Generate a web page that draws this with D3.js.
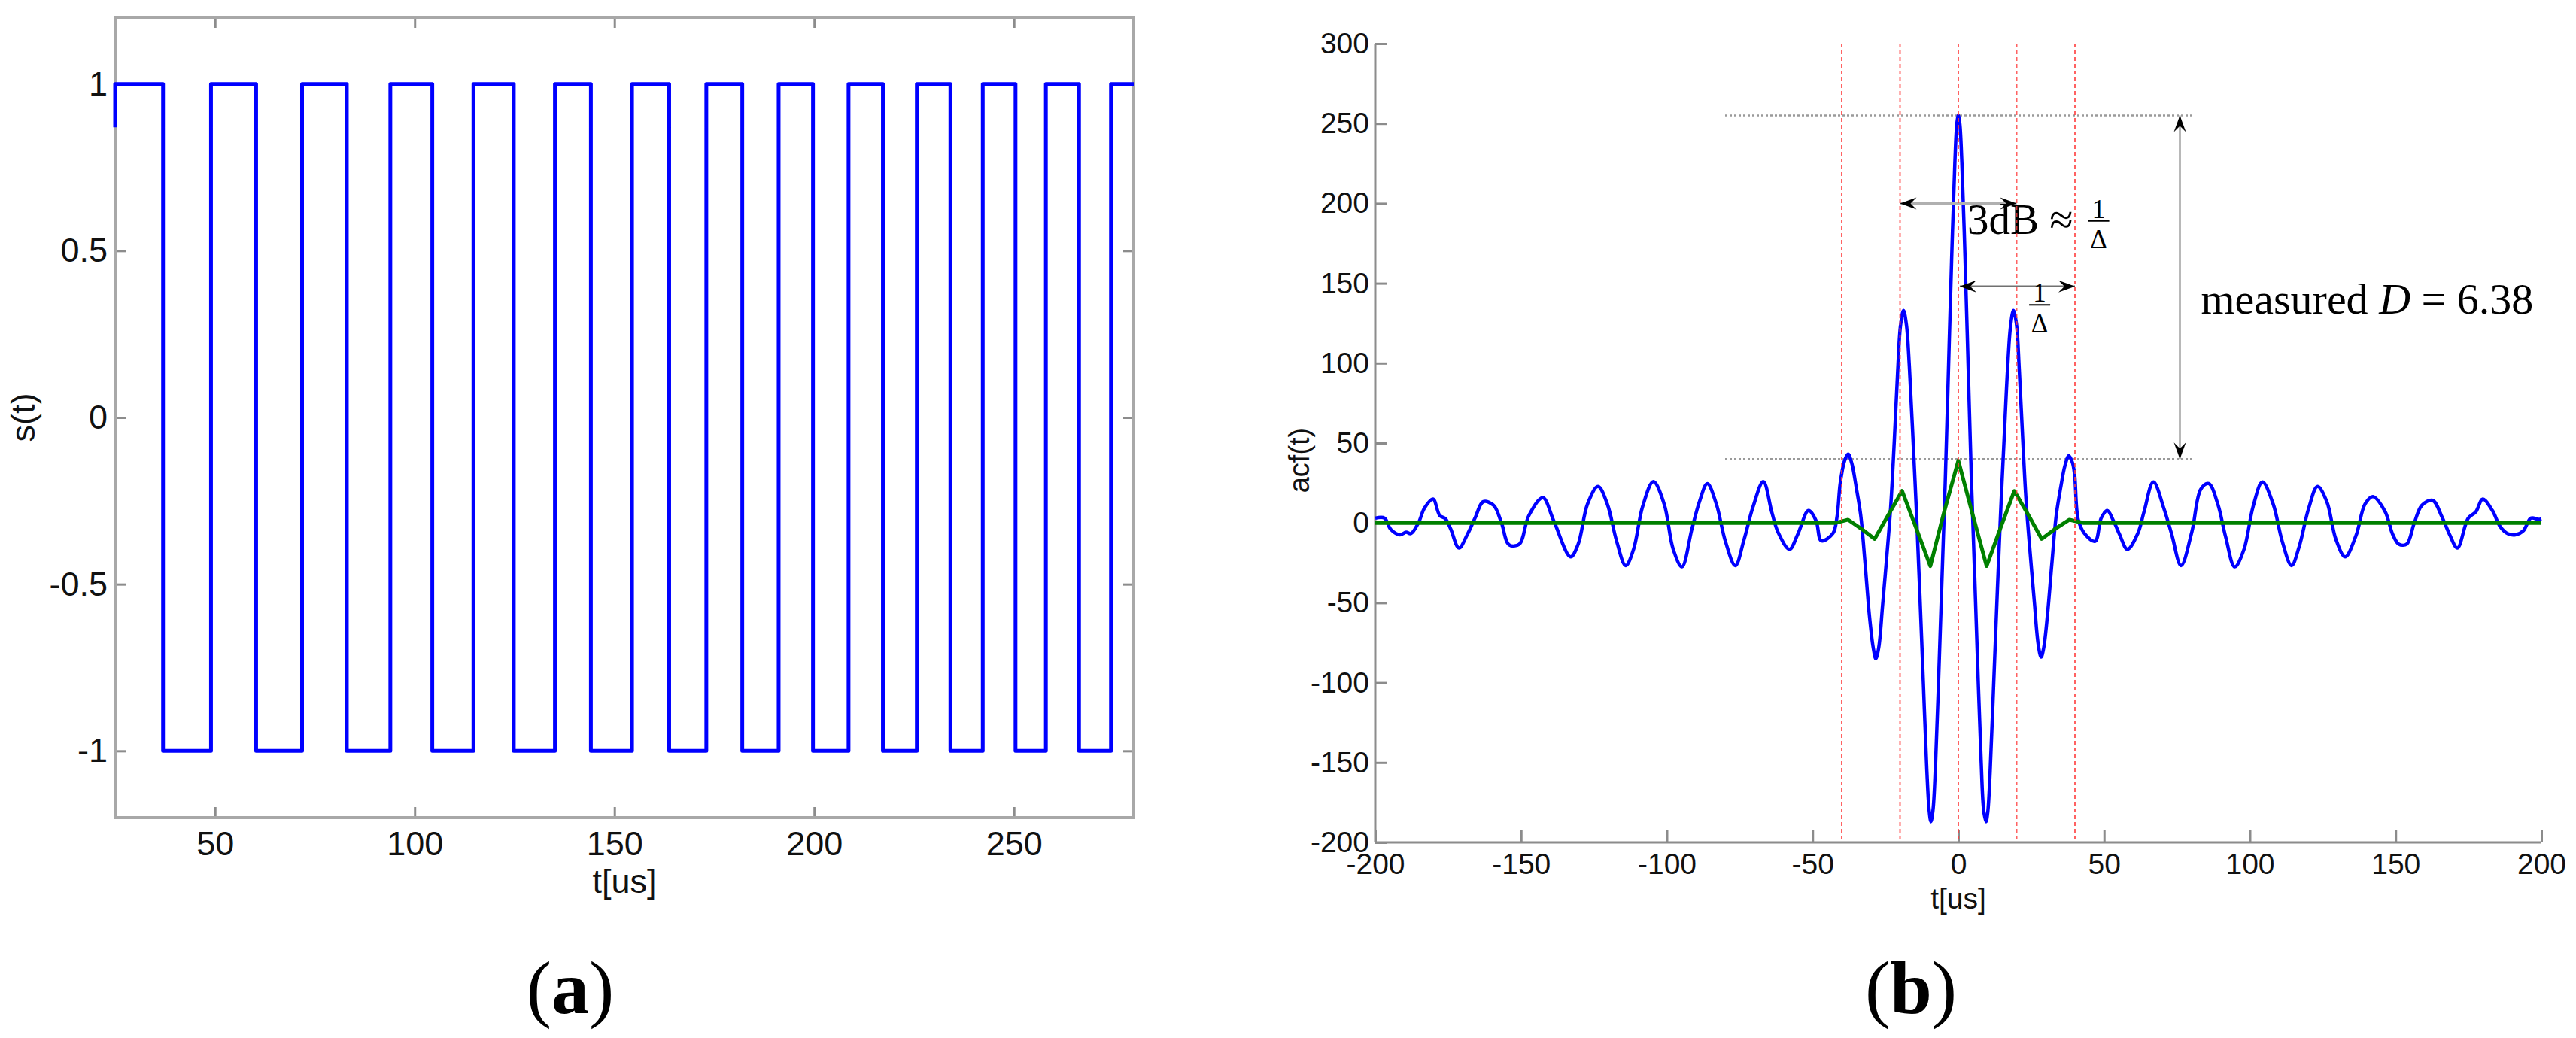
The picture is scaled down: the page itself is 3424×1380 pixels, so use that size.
<!DOCTYPE html>
<html>
<head>
<meta charset="utf-8">
<script src="https://cdn.jsdelivr.net/npm/d3@7"></script>
<style>
  body { margin: 0; background: #fff; }
  svg { display: block; }
</style>
</head>
<body>
<div id="chart"></div>
<script>
// (a) square wave: level flips at each edge time, starts high
var squareStart = [25, 0.87];
var squareEdges = [37.0, 49.0, 60.3, 71.8, 83.0, 93.9, 104.4, 114.7, 124.8, 135.1, 144.1, 154.4, 163.7,
  173.0, 182.0, 191.1, 199.7, 208.6, 217.2, 225.7, 234.1, 242.2, 250.4, 258.0, 266.3, 274.3];
var squareEnd = 280;
var aXTicks = [50, 100, 150, 200, 250];
var aYTicks = [-1, -0.5, 0, 0.5, 1];

// (b) autocorrelation, blue = acf, green = reference acf
var acfBlue = [
  [-200, 3], [-196.8, 3], [-194.7, -4], [-191.5, -7.4], [-189.4, -5.8], [-187.8, -6.7], [-185.2, 0],
  [-183.1, 9.4], [-180.2, 14.9], [-177.9, 4.7], [-175.9, 2.6], [-174.1, -3.9], [-171.3, -15.7],
  [-168.4, -7.2], [-165.8, 3], [-162.9, 13.3], [-159.4, 11], [-156.8, 0.6], [-154.1, -13.7],
  [-150.6, -13.3], [-147.3, 4.7], [-142.5, 15.7], [-138.8, 1.4], [-133.0, -21.2], [-130.4, -13.3],
  [-127.2, 11.8], [-123.6, 22.8], [-120.4, 11.8], [-117.2, -11.5], [-114.1, -26.7], [-111.4, -16.5],
  [-108.3, 10.2], [-104.6, 25.9], [-100.9, 11.8], [-97.8, -16.5], [-94.8, -27.5], [-91.4, -3.9],
  [-88.8, 13.3], [-86.1, 24.6], [-83.0, 11.8], [-79.9, -11.5], [-76.5, -26.7], [-73.5, -10.4],
  [-70.4, 10.2], [-66.9, 25.9], [-64.0, 6.9], [-61.9, -5.6], [-57.9, -16.5], [-55.1, -7.2],
  [-51.4, 7.7], [-48.8, 1.4], [-47.0, -11.2], [-43.0, -6.5],
  [-41.6, 4], [-40.5, 25], [-39, 39], [-37.8, 43], [-36.5, 37], [-35, 22], [-33.5, 5], [-32, -25],
  [-30.5, -58], [-29.2, -78], [-28.3, -85], [-27.3, -78], [-26, -52], [-24.5, -20], [-23.2, 10],
  [-22, 50], [-20.8, 95], [-19.8, 124], [-18.8, 133], [-17.8, 124], [-16.8, 98], [-15.8, 62],
  [-14.5, 12], [-13.3, -40], [-12, -100], [-10.8, -155], [-10, -180], [-9.4, -187], [-8.7, -180],
  [-7.8, -150], [-6.8, -100], [-5.7, -40], [-4.5, 25], [-3.4, 95], [-2.3, 165], [-1.2, 225],
  [-0.5, 250], [0, 255],
  [0.5, 250], [1.2, 226], [2.3, 166], [3.4, 96], [4.5, 26], [5.7, -38], [6.8, -98], [7.8, -148],
  [8.7, -180], [9.5, -187], [10.1, -181], [10.9, -156], [12.1, -102], [13.4, -42], [14.6, 10],
  [15.9, 60], [16.9, 97], [17.9, 123], [18.9, 133], [19.9, 125], [20.9, 96], [22.1, 52], [23.3, 12],
  [24.6, -18], [26.1, -50], [27.4, -76], [28.4, -84], [29.3, -78], [30.6, -57], [32.1, -25],
  [33.6, 5], [35.1, 22], [36.6, 36], [37.9, 42], [39.1, 38], [39.9, 30], [41.1, 2.2],
  [43.2, -6.4], [46.9, -11.5], [49.0, 3], [51.1, 7.7], [53.2, 1.4], [55.3, -7.2], [58.0, -16.5],
  [61.6, -6.4], [63.7, 7], [66.9, 25.6], [70.6, 8.6], [73.2, -7.2], [76.4, -26.7], [80.1, -5.6],
  [83.2, 21.2], [85.9, 24.6], [89.0, 11.8], [91.7, -8.8], [94.8, -27.5], [98.0, -16.5],
  [101.1, 10.2], [104.3, 25.6], [108.0, 11.8], [111.1, -11.5], [114.3, -26.7], [116.9, -14.9],
  [120.1, 8.6], [123.2, 22.8], [126.4, 13.3], [129.5, -10.2], [132.7, -21.2], [136.4, -8],
  [139.5, 11.8], [142.2, 16.5], [146.4, 7.1], [149.0, -7.2], [151.1, -13.3], [153.8, -13.3],
  [156.4, 0], [159.0, 11], [162.7, 14.1], [165.9, 3.8], [168.5, -7.2], [171.2, -15.7], [174.9, 3],
  [177.5, 6.9], [179.9, 14.9], [183.2, 7.7], [185.9, -2.4], [188.5, -6.7], [191.1, -7.4],
  [193.8, -4.9], [196.4, 3], [199.0, 2.2], [200, 2.5]
];
var acfGreen = [
  [-200, 0], [-42, 0], [-37.8, 2], [-33, -4], [-28.7, -10], [-24, 5], [-19.3, 20], [-14.5, -3],
  [-9.6, -27], [-5, 6], [0, 39], [4.8, 6], [9.7, -27], [14.5, -3], [19.2, 20], [24, 5], [28.6, -10],
  [33, -4], [38.1, 2], [43, 0], [200, 0]
];
var bXTicks = [-200, -150, -100, -50, 0, 50, 100, 150, 200];
var bYTicks = [-200, -150, -100, -50, 0, 50, 100, 150, 200, 250, 300];
var markerTimes = [-40, -20, 0, 20, 40];
var levelLines = [255, 40];       // peak and first sidelobe
var levelSpan = [-80, 80];
var arrow3dB = { from: -20, to: 20, at: 200 };
var arrowDelta = { from: 0.5, to: 40, at: 148 };
var arrowD = { at: 76, from: 255, to: 40 };

var width = 3424, height = 1380;
var sans = "'Liberation Sans', Arial, Helvetica, sans-serif";
var serif = "'Liberation Serif', 'Times New Roman', serif";

var svg = d3.select('#chart').append('svg')
  .attr('width', width)
  .attr('height', height)
  .style('background', '#fff');

var defs = svg.append('defs');
defs.append('marker')
  .attr('id', 'head')
  .attr('viewBox', '-24 -9 26 18')
  .attr('refX', 0).attr('refY', 0)
  .attr('markerWidth', 26).attr('markerHeight', 18)
  .attr('markerUnits', 'userSpaceOnUse')
  .attr('orient', 'auto-start-reverse')
  .append('path')
  .attr('d', 'M0,0 L-22,-8 L-14,0 L-22,8 Z')
  .attr('fill', '#000');

function styleAxis(g, size) {
  g.attr('font-family', sans).attr('font-size', size);
  g.selectAll('.domain').remove();
  g.selectAll('.tick line').attr('stroke', '#8c8c8c').attr('stroke-width', 3);
  g.selectAll('.tick text').attr('fill', '#111');
}

// ---------- panel (a) ----------
var xa = d3.scaleLinear().domain([25, 280]).range([153, 1507]);
var ya = d3.scaleLinear().domain([-1.2, 1.2]).range([1087, 23]);

var pa = svg.append('g');

pa.append('g').attr('transform', 'translate(0,' + ya(-1.2) + ')')
  .call(d3.axisBottom(xa).tickValues(aXTicks).tickSize(-14).tickSizeOuter(0).tickPadding(18))
  .call(styleAxis, 45);
pa.append('g').attr('transform', 'translate(0,' + ya(1.2) + ')')
  .call(d3.axisTop(xa).tickValues(aXTicks).tickSize(-14).tickSizeOuter(0).tickFormat(''))
  .call(styleAxis, 45);
pa.append('g').attr('transform', 'translate(' + xa(25) + ',0)')
  .call(d3.axisLeft(ya).tickValues(aYTicks).tickSize(-14).tickSizeOuter(0).tickPadding(10)
    .tickFormat(function (d) { return String(d); }))
  .call(styleAxis, 45);
pa.append('g').attr('transform', 'translate(' + xa(280) + ',0)')
  .call(d3.axisRight(ya).tickValues(aYTicks).tickSize(-14).tickSizeOuter(0).tickFormat(''))
  .call(styleAxis, 45);

pa.append('rect')
  .attr('x', xa(25)).attr('y', ya(1.2))
  .attr('width', xa(280) - xa(25)).attr('height', ya(-1.2) - ya(1.2))
  .attr('fill', 'none').attr('stroke', '#a8a8a8').attr('stroke-width', 4);

var squarePts = [squareStart];
var level = 1;
squarePts.push([squareStart[0], level]);
for (var i = 0; i < squareEdges.length; i++) {
  squarePts.push([squareEdges[i], level]);
  level = -level;
  squarePts.push([squareEdges[i], level]);
}
squarePts.push([squareEnd, level]);

pa.append('path')
  .datum(squarePts)
  .attr('fill', 'none')
  .attr('stroke', '#0000ff')
  .attr('stroke-width', 5)
  .attr('stroke-linejoin', 'round')
  .attr('d', d3.line().x(function (d) { return xa(d[0]); }).y(function (d) { return ya(d[1]); }));

pa.append('text').attr('transform', 'translate(46,555) rotate(-90)')
  .attr('text-anchor', 'middle').attr('font-family', sans).attr('font-size', 45).attr('fill', '#111')
  .text('s(t)');
pa.append('text').attr('x', 830).attr('y', 1187)
  .attr('text-anchor', 'middle').attr('font-family', sans).attr('font-size', 45).attr('fill', '#111')
  .text('t[us]');

var la = pa.append('text').attr('x', 758).attr('y', 1347)
  .attr('text-anchor', 'middle').attr('font-family', serif).attr('font-size', 100).attr('fill', '#000');
la.append('tspan').text('(');
la.append('tspan').attr('font-weight', 'bold').text('a');
la.append('tspan').text(')');

// ---------- panel (b) ----------
var xb = d3.scaleLinear().domain([-200, 200]).range([1828, 3378]);
var yb = d3.scaleLinear().domain([-200, 300]).range([1120, 58]);

var pb = svg.append('g');

pb.append('g').attr('transform', 'translate(0,' + yb(-200) + ')')
  .call(d3.axisBottom(xb).tickValues(bXTicks).tickSize(-16).tickSizeOuter(0).tickPadding(14)
    .tickFormat(function (d) { return String(d); }))
  .call(styleAxis, 39);
pb.append('g').attr('transform', 'translate(' + xb(-200) + ',0)')
  .call(d3.axisLeft(yb).tickValues(bYTicks).tickSize(-16).tickSizeOuter(0).tickPadding(8)
    .tickFormat(function (d) { return String(d); }))
  .call(styleAxis, 39);

pb.append('line')
  .attr('x1', xb(-200)).attr('x2', xb(200)).attr('y1', yb(-200)).attr('y2', yb(-200))
  .attr('stroke', '#8c8c8c').attr('stroke-width', 3);
pb.append('line')
  .attr('x1', xb(-200)).attr('x2', xb(-200)).attr('y1', yb(-200)).attr('y2', yb(300))
  .attr('stroke', '#8c8c8c').attr('stroke-width', 3);

// level lines
pb.selectAll('.level').data(levelLines).enter().append('line')
  .attr('class', 'level')
  .attr('x1', xb(levelSpan[0])).attr('x2', xb(levelSpan[1]))
  .attr('y1', function (d) { return yb(d); }).attr('y2', function (d) { return yb(d); })
  .attr('stroke', '#9a9a9a').attr('stroke-width', 2.5).attr('stroke-dasharray', '3,3');

var lineB = d3.line()
  .x(function (d) { return xb(d[0]); })
  .y(function (d) { return yb(d[1]); });

pb.append('path').datum(acfBlue)
  .attr('fill', 'none').attr('stroke', '#0000ff').attr('stroke-width', 4.5)
  .attr('stroke-linejoin', 'round')
  .attr('d', lineB.curve(d3.curveCatmullRom.alpha(0.5)));

pb.append('path').datum(acfGreen)
  .attr('fill', 'none').attr('stroke', '#008000').attr('stroke-width', 5)
  .attr('stroke-linejoin', 'round')
  .attr('d', d3.line().x(function (d) { return xb(d[0]); }).y(function (d) { return yb(d[1]); }));

// arrows
pb.append('line')
  .attr('x1', xb(arrow3dB.from)).attr('x2', xb(arrow3dB.to))
  .attr('y1', yb(arrow3dB.at)).attr('y2', yb(arrow3dB.at))
  .attr('stroke', '#b0b0b0').attr('stroke-width', 4)
  .attr('marker-start', 'url(#head)').attr('marker-end', 'url(#head)');
pb.append('line')
  .attr('x1', xb(arrowDelta.from)).attr('x2', xb(arrowDelta.to))
  .attr('y1', yb(arrowDelta.at)).attr('y2', yb(arrowDelta.at))
  .attr('stroke', '#707070').attr('stroke-width', 2.5)
  .attr('marker-start', 'url(#head)').attr('marker-end', 'url(#head)');
pb.append('line')
  .attr('x1', xb(arrowD.at)).attr('x2', xb(arrowD.at))
  .attr('y1', yb(arrowD.from)).attr('y2', yb(arrowD.to))
  .attr('stroke', '#a0a0a0').attr('stroke-width', 2.5)
  .attr('marker-start', 'url(#head)').attr('marker-end', 'url(#head)');

// annotation text: 1 over delta, spaced so the two rows do not collide
function fraction(g, cx, barY, size) {
  var f = g.append('text')
    .attr('text-anchor', 'middle').attr('font-family', serif).attr('font-size', size).attr('fill', '#000');
  f.append('tspan').attr('x', cx).attr('y', barY - 4).text('1');
  f.append('tspan').attr('x', cx).attr('y', barY + size * 1.04).text('\u0394');
  g.append('line').attr('x1', cx - 14).attr('x2', cx + 14).attr('y1', barY).attr('y2', barY)
    .attr('stroke', '#000').attr('stroke-width', 2);
}

var t3 = pb.append('text').attr('x', xb(3.1)).attr('y', yb(181))
  .attr('font-family', serif).attr('font-size', 57).attr('fill', '#000')
  .text('3dB \u2248');
fraction(pb, xb(3.1) + t3.node().getComputedTextLength() + 34, yb(189), 35);
fraction(pb, xb(27.9), yb(136.5), 35);

var tm = pb.append('text').attr('x', xb(83.2)).attr('y', yb(130.9))
  .attr('font-family', serif).attr('font-size', 58).attr('fill', '#000');
tm.append('tspan').text('measured ');
tm.append('tspan').attr('font-style', 'italic').text('D');
tm.append('tspan').text(' = 6.38');

// red marker lines on top
pb.selectAll('.marker').data(markerTimes).enter().append('line')
  .attr('class', 'marker')
  .attr('x1', function (d) { return xb(d); }).attr('x2', function (d) { return xb(d); })
  .attr('y1', yb(300)).attr('y2', yb(-200))
  .attr('stroke', '#ff3b3b').attr('stroke-opacity', 0.8).attr('stroke-width', 2)
  .attr('stroke-dasharray', '5,4');

pb.append('text').attr('transform', 'translate(1740,612) rotate(-90)')
  .attr('text-anchor', 'middle').attr('font-family', sans).attr('font-size', 38).attr('fill', '#111')
  .text('acf(t)');
pb.append('text').attr('x', xb(0)).attr('y', 1208)
  .attr('text-anchor', 'middle').attr('font-family', sans).attr('font-size', 39).attr('fill', '#111')
  .text('t[us]');

var lb = pb.append('text').attr('x', 2540).attr('y', 1347)
  .attr('text-anchor', 'middle').attr('font-family', serif).attr('font-size', 100).attr('fill', '#000');
lb.append('tspan').text('(');
lb.append('tspan').attr('font-weight', 'bold').text('b');
lb.append('tspan').text(')');
</script>
</body>
</html>
